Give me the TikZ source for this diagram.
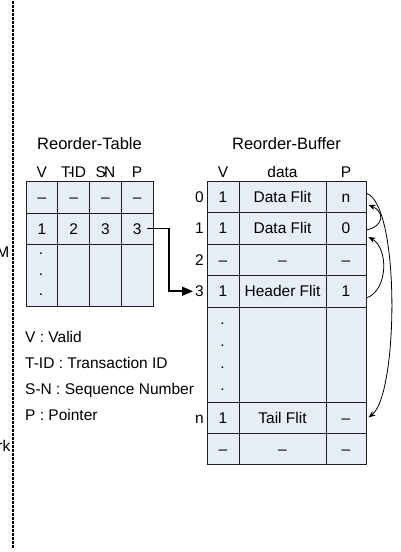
\documentclass[tikz,border=0pt]{standalone}
\usepackage{fontspec}
\setmainfont{Liberation Sans}
\usetikzlibrary{arrows.meta,positioning}

\definecolor{cellfill}{RGB}{231,237,247}
\definecolor{gridline}{RGB}{30,30,30}
\newcommand{\fsbody}{\fontsize{15.5pt}{18pt}\selectfont}
\newcommand{\fstitle}{\fontsize{16.5pt}{19pt}\selectfont}

\begin{document}
\begin{tikzpicture}[x=1pt,y=-1pt,
  txt/.style={inner sep=0pt, text height=11.1pt, text depth=0pt, font=\fsbody},
  title/.style={txt, font=\fstitle},
  cell/.style={txt, draw=gridline, fill=cellfill, line width=0.9pt},
  dotmark/.style={inner sep=0pt, anchor=base, font=\fsbody},
  legend/.style={txt, anchor=west},
  ptr/.style={-{Triangle[length=11pt,width=9pt]}, line width=1.6pt},
  link/.style={-{Stealth[length=7pt,width=5.5pt]}, line width=0.8pt},
]
\useasboundingbox (0,0) rectangle (401,552);

% vertical dotted separator (a column of small square dots)
\foreach \i in {0,...,136}
  \fill[black] (11.8,{1+4*\i}) rectangle (14.2,{3.6+4*\i});
\node[txt, anchor=east] (lm) at (9.5,252) {M};
\node[txt, anchor=east] (lrk) at (10.5,446) {rk};

% ---------------- Reorder-Table ----------------
\node[title] (ttitle) at (89.5,144) {Reorder-Table};
\node[txt] (thv) at (41.9,172) {V};
\node[txt] (thid) at (73.6,172) {T\kern-2.5pt-\kern-2.5ptID};
\node[txt] (thsn) at (105.4,172) {S\kern-3.5pt-\kern-3.5ptN};
\node[txt] (thp) at (137.1,172) {P};

\foreach \k/\cx in {1/41.875,2/73.625,3/105.375,4/137.125}
  \node[cell, minimum width=31.75pt, minimum height=32pt] (ta\k) at (\cx,197) {--};
\foreach \k/\cx/\v in {1/41.875/1,2/73.625/2,3/105.375/3,4/137.125/3}
  \node[cell, minimum width=31.75pt, minimum height=31pt] (tb\k) at (\cx,228.5) {\v};
\foreach \k/\cx in {1/41.875,2/73.625,3/105.375,4/137.125}
  \node[cell, minimum width=31.75pt, minimum height=62pt] (tc\k) at (\cx,275) {};
\foreach \k/\dy in {1/254,2/275,3/295}
  \node[dotmark] (tdot\k) at (41,\dy) {.};

% legend
\node[legend] (lgv) at (25,337) {V : Valid};
\node[legend] (lgt) at (25,363) {T-ID : Transaction ID};
\node[legend] (lgs) at (25,389) {S-N : Sequence Number};
\node[legend] (lgp) at (25,415) {P : Pointer};

% ---------------- Reorder-Buffer ----------------
\node[title] (btitle) at (286.5,144) {Reorder-Buffer};
\node[txt] (bhv) at (223,172) {V};
\node[txt] (bhd) at (282.5,172) {data};
\node[txt] (bhp) at (346,172) {P};

\foreach \r/\cy/\h/\vv/\dd/\pp in {
    0/196.75/31.5/1/Data Flit/n,
    1/228.25/31.5/1/Data Flit/0,
    2/259.75/31.5/--/--/--,
    3/291.25/31.5/1/Header Flit/1,
    d/354.5/95/{}/{}/{},
    n/417.5/31/1/Tail Flit/--,
    l/448.5/31/--/--/--}{
  \node[cell, minimum width=32pt, minimum height=\h pt] (bv\r) at (223,\cy) {\vv};
  \node[cell, minimum width=87pt, minimum height=\h pt] (bd\r) at (282.5,\cy) {\dd};
  \node[cell, minimum width=40pt, minimum height=\h pt] (bp\r) at (346,\cy) {\pp};
}
\foreach \k/\dy in {1/324,2/346,3/368,4/390}
  \node[dotmark] (bdot\k) at (222.5,\dy) {.};

% slot indices
\foreach \r in {0,1,2,3,n}
  \node[txt, left=2.5pt of bv\r] (bi\r) {\r};

% pointer from the table entry into the buffer
\coordinate (kinkx) at (169,0);
\draw[ptr] ([xshift=-6pt]tb4.east) -| (kinkx |- bi3.west) -- ([xshift=-2pt]bi3.west);

% linked list of flits through the P column
\draw[link] ([yshift=3.5pt]bp0.east) .. controls +(34,12) and +(30,-23) .. ([xshift=2pt]bpn.east);
\draw[link] ([yshift=-1.75pt]bp1.east) .. controls +(18,-4) and +(16,7) .. ([xshift=2pt,yshift=-8pt]bp0.east);
\draw[link] ([yshift=-6.75pt]bp3.east) .. controls +(22,-8) and +(20,11) .. ([xshift=2pt,yshift=-8.75pt]bp1.east);
\end{tikzpicture}
\end{document}
